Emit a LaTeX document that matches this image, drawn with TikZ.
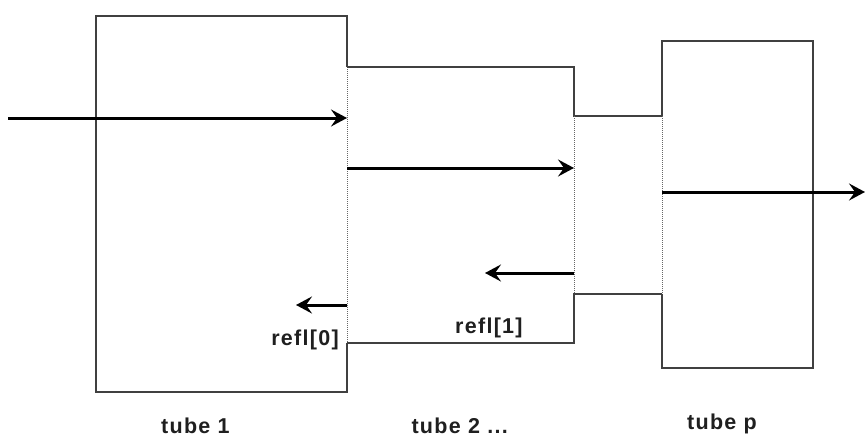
\documentclass[tikz,border=0pt]{standalone}
\usepackage{fontspec}
\setmainfont{Liberation Sans}
\newfontfamily\lblfont[LetterSpace=6]{Liberation Sans}
\usetikzlibrary{arrows.meta}
\begin{document}
\begin{tikzpicture}[x=1pt,y=-1pt,
  wall/.style={draw=black!75,line width=1.4pt},
  gap/.style={draw=black!60,line width=1pt,dash pattern=on 1pt off 1pt},
  flow/.style={draw=black,line width=3pt,-{Stealth[length=16pt,width=17pt,inset=6pt]}},
  lbl/.style={inner sep=0pt,font=\lblfont\fontsize{21.5}{24}\selectfont\bfseries,text=black!88}]
\useasboundingbox (0,0) rectangle (867,436);
% tube corners
\coordinate (a1) at (96,16);   \coordinate (a2) at (347,16);
\coordinate (a3) at (347,392); \coordinate (a4) at (96,392);
\coordinate (b1) at (347,67);  \coordinate (b2) at (574,67);
\coordinate (b3) at (574,343); \coordinate (b4) at (347,343);
\coordinate (c1) at (574,116); \coordinate (c2) at (662,116);
\coordinate (c3) at (662,294); \coordinate (c4) at (574,294);
\coordinate (p1) at (662,41);  \coordinate (p2) at (813,41);
\coordinate (p3) at (813,368); \coordinate (p4) at (662,368);
% tube 1
\draw[wall] (b1) -- (a2) -- (a1) -- (a4) -- (a3) -- (b4);
\draw[gap] (b1) -- (b4);
% tube 2
\draw[wall] (b1) -- (b2) -- (c1) -- (c2);
\draw[wall] (b4) -- (b3) -- (c4) -- (c3);
\draw[gap] (c1) -- (c4);
% tube p
\draw[wall] (c2) -- (p1) -- (p2) -- (p3) -- (p4) -- (c3);
\draw[gap] (c2) -- (c3);
% arrows
\coordinate (s1) at (8,118);   \coordinate (e1) at (347,118);
\coordinate (s2) at (347,168); \coordinate (e2) at (574,168);
\coordinate (s3) at (574,273); \coordinate (e3) at (485,273);
\coordinate (s4) at (347,305); \coordinate (e4) at (296,305);
\coordinate (s5) at (662,192); \coordinate (e5) at (865,192);
\draw[flow] (s1) -- (e1);
\draw[flow] (s2) -- (e2);
\draw[flow] (s3) -- (e3);
\draw[flow] (s4) -- (e4);
\draw[flow] (s5) -- (e5);
% labels
\node[lbl,anchor=base east] (r0) at (339,345) {refl[0]};
\node[lbl,anchor=base west] (r1) at (455,333) {refl[1]};
\node[lbl,anchor=base west] (t1) at (161,433) {tube 1};
\node[lbl,anchor=base east] (t2) at (508,433) {tube 2 ...};
\node[lbl,anchor=base west] (tp) at (687,429) {tube p};
\end{tikzpicture}
\end{document}
